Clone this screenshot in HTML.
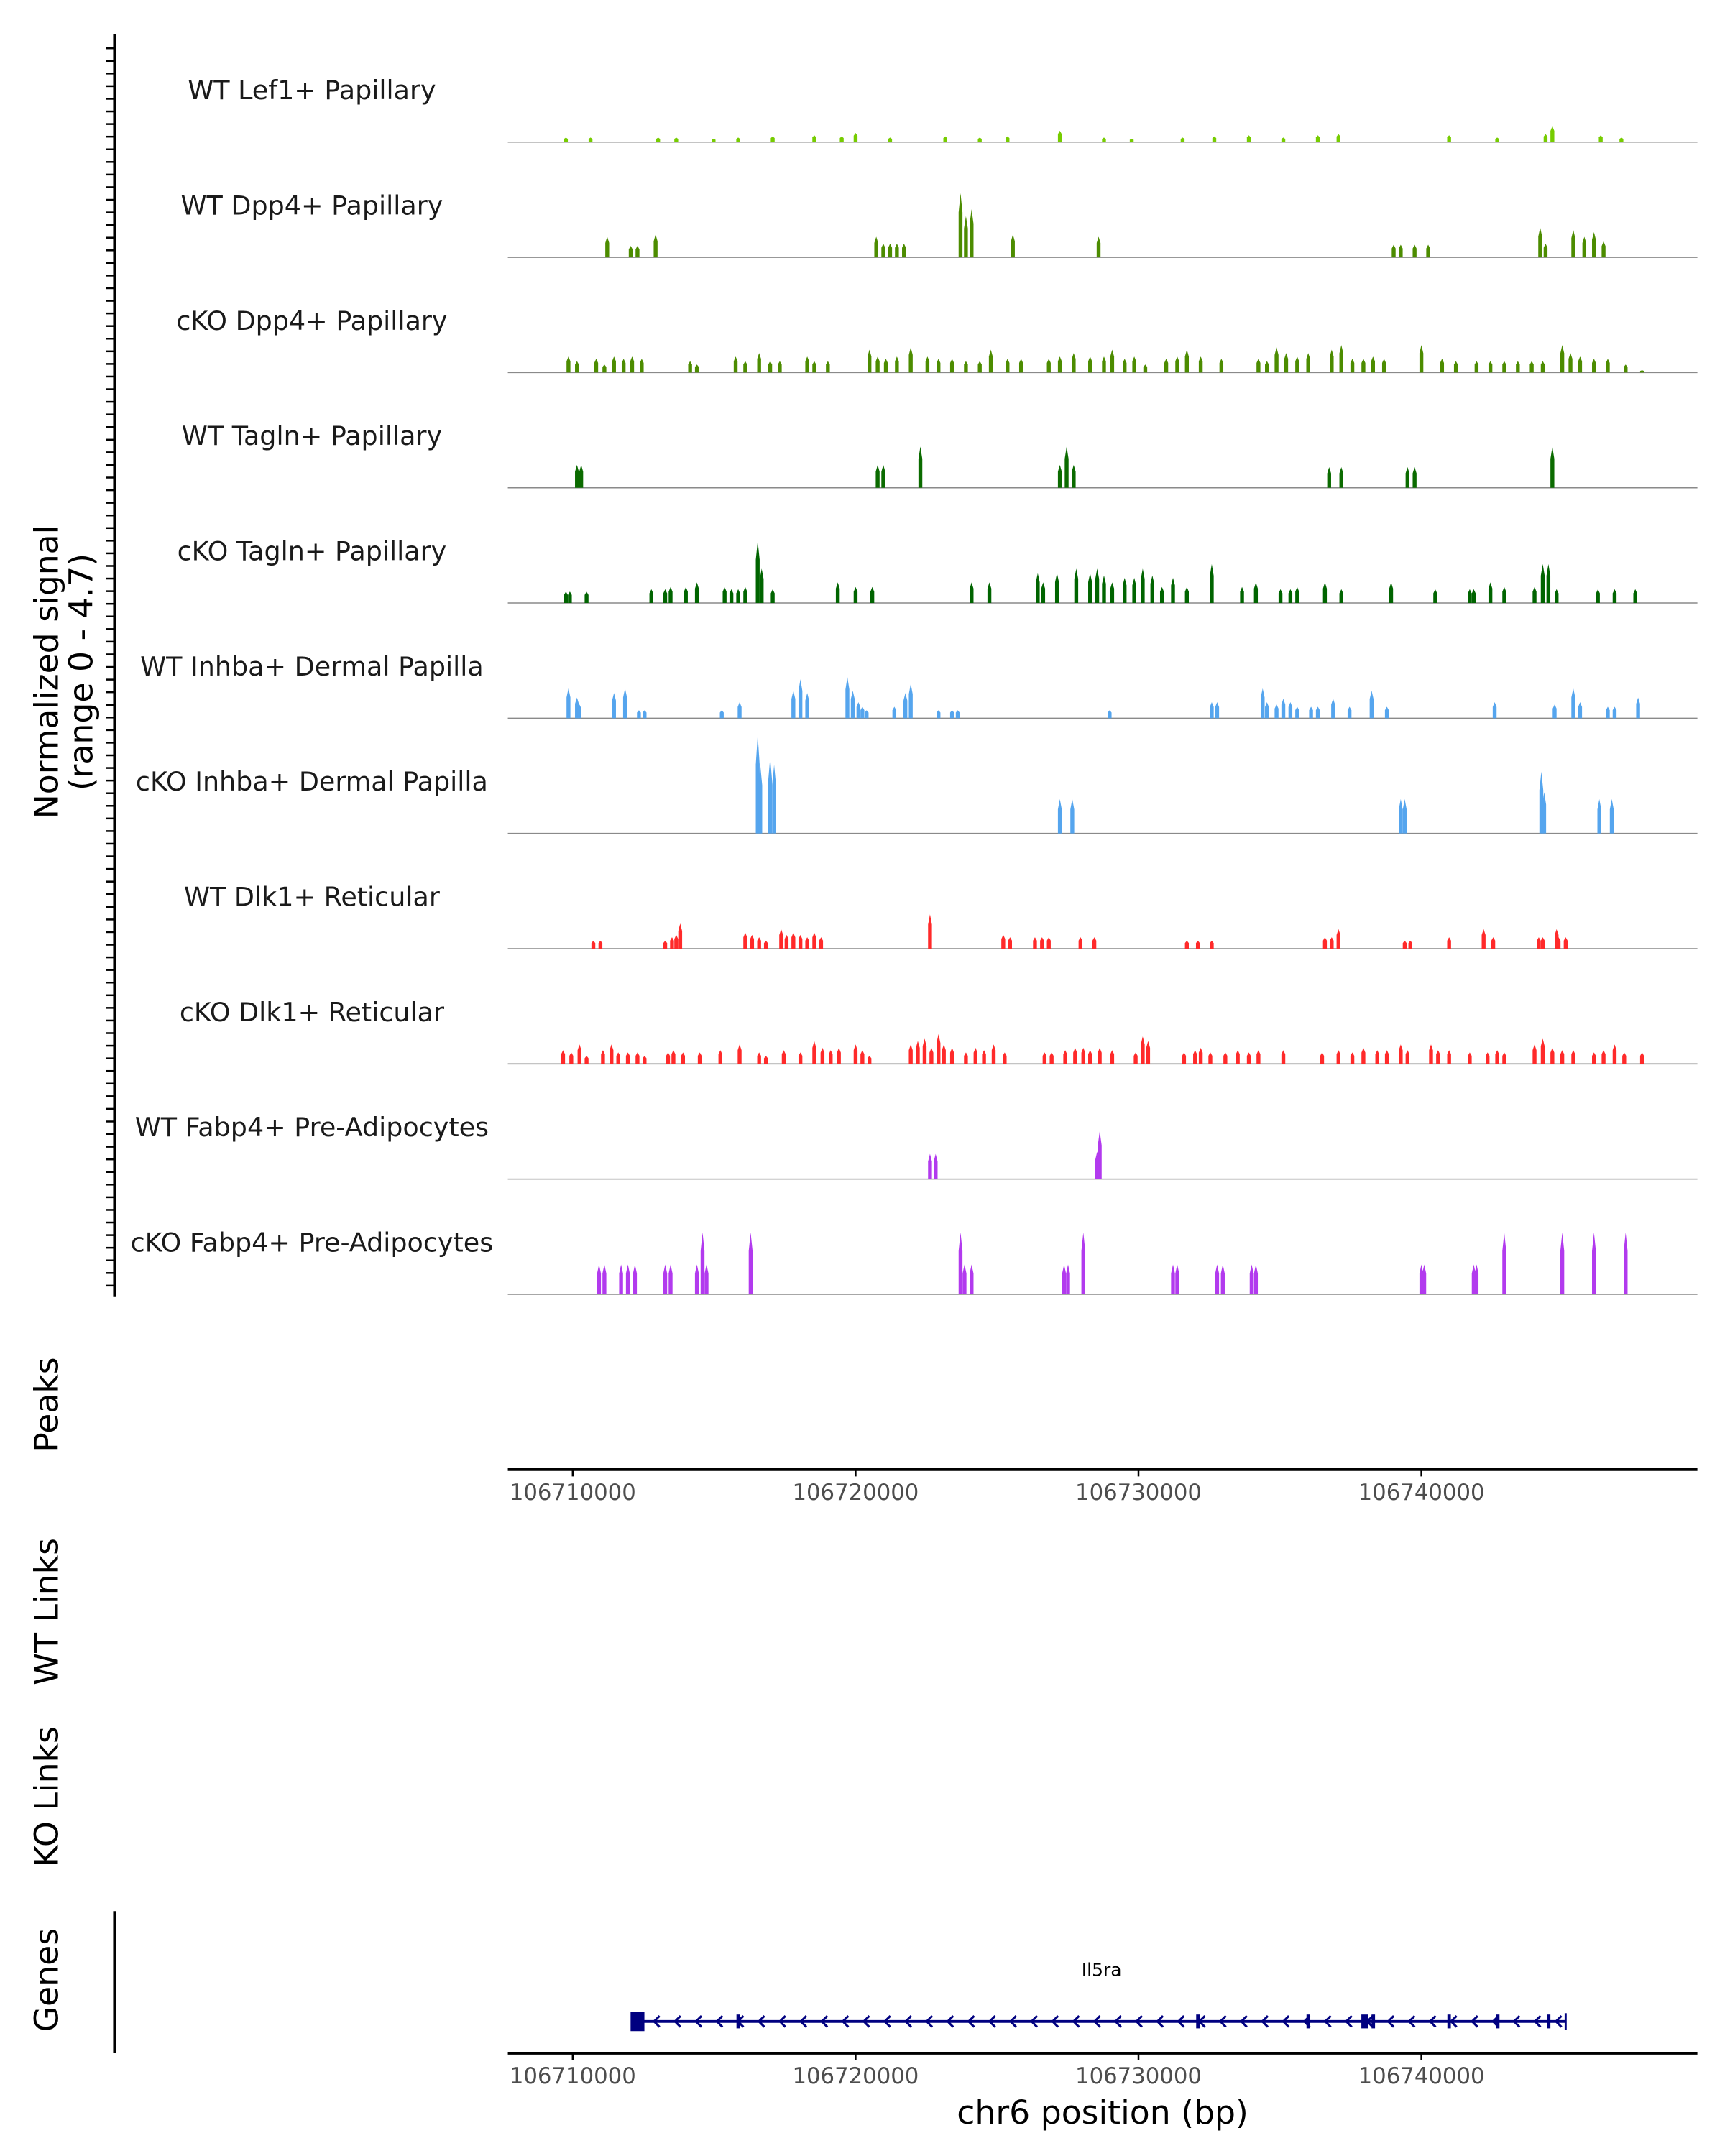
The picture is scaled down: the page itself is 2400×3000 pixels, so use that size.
<!DOCTYPE html>
<html><head><meta charset="utf-8"><style>
html,body{margin:0;padding:0;background:#fff;}
svg{display:block;}
text{font-family:"DejaVu Sans","Liberation Sans",sans-serif;}
</style></head><body>
<svg id="chart" xmlns="http://www.w3.org/2000/svg" width="2400" height="3000" viewBox="0 0 1250 1562.5">
<rect x="0" y="0" width="1250" height="1562.5" fill="#fff"/>
<g id="yaxis"></g>
<g id="tracks"></g>
<text transform="translate(42,487) rotate(-90)" text-anchor="middle" font-size="23.8" fill="#000">Normalized signal</text>
<text transform="translate(67,487) rotate(-90)" text-anchor="middle" font-size="23.8" fill="#000">(range 0 - 4.7)</text>
<text transform="translate(42,1018) rotate(-90)" text-anchor="middle" font-size="23.8">Peaks</text>
<text transform="translate(42,1168) rotate(-90)" text-anchor="middle" font-size="23.8">WT Links</text>
<text transform="translate(42,1302) rotate(-90)" text-anchor="middle" font-size="23.8">KO Links</text>
<text transform="translate(42,1435) rotate(-90)" text-anchor="middle" font-size="23.8">Genes</text>
<line x1="83" y1="1385" x2="83" y2="1488" stroke="#000" stroke-width="2"/>
<g id="xaxis1"></g>
<g id="gene"></g>
<g id="xaxis2"></g>
<text x="799" y="1539" text-anchor="middle" font-size="23.8">chr6 position (bp)</text>
</svg>
<script>
// positions in kb offset from 106700000; heights in normalized signal units
const xTicks=[106710000,106720000,106730000,106740000];
const trackNames=["WT Lef1+ Papillary","WT Dpp4+ Papillary","cKO Dpp4+ Papillary","WT Tagln+ Papillary","cKO Tagln+ Papillary","WT Inhba+ Dermal Papilla","cKO Inhba+ Dermal Papilla","WT Dlk1+ Reticular","cKO Dlk1+ Reticular","WT Fabp4+ Pre-Adipocytes","cKO Fabp4+ Pre-Adipocytes"];
const trackColors=["#76CC00","#4C8C00","#4C8C00","#0B6B00","#006400","#55A5EE","#55A5EE","#FF2A2A","#FF2A2A","#B23AEE","#B23AEE"];
const lef1WtPos=[9.76,10.63,13.02,13.66,14.98,15.85,17.07,18.54,19.51,20.0,21.22,23.17,24.39,25.37,27.22,28.78,29.76,31.56,32.68,33.9,35.12,36.34,37.07,40.98,42.68,44.39,44.63,46.34,47.07];
const lef1WtHt=[0.2,0.2,0.2,0.2,0.15,0.2,0.25,0.3,0.25,0.4,0.2,0.25,0.2,0.25,0.5,0.2,0.15,0.2,0.25,0.3,0.2,0.3,0.35,0.3,0.2,0.35,0.7,0.3,0.2];
const dpp4WtPos=[11.22,12.05,12.29,12.93,20.73,20.98,21.22,21.46,21.71,23.71,23.90,24.10,25.56,28.59,39.02,39.27,39.76,40.24,44.2,44.39,45.37,45.76,46.1,46.44];
const dpp4WtHt=[0.9,0.5,0.5,1.0,0.9,0.6,0.6,0.6,0.6,2.8,1.8,2.1,1.0,0.9,0.55,0.55,0.55,0.55,1.3,0.6,1.2,0.9,1.1,0.7];
const dpp4KoPos=[9.85,10.15,10.83,11.12,11.46,11.80,12.10,12.44,14.15,14.39,15.76,16.10,16.59,16.98,17.32,18.29,18.54,19.02,20.49,20.78,21.07,21.46,21.95,22.54,22.93,23.41,23.90,24.39,24.78,25.37,25.85,26.83,27.22,27.71,28.29,28.78,29.07,29.51,29.85,30.24,30.98,31.37,31.71,32.20,32.93,34.24,34.54,34.88,35.22,35.61,36.00,36.83,37.17,37.56,37.95,38.29,38.68,40.00,40.73,41.22,41.95,42.44,42.93,43.41,43.90,44.29,44.98,45.27,45.61,46.10,46.59,47.22,47.80];
const dpp4KoHt=[0.7,0.5,0.6,0.35,0.7,0.6,0.7,0.6,0.5,0.35,0.7,0.5,0.85,0.5,0.5,0.7,0.5,0.5,1.0,0.7,0.6,0.7,1.1,0.7,0.6,0.6,0.5,0.5,1.0,0.6,0.6,0.6,0.7,0.85,0.7,0.7,1.0,0.6,0.7,0.35,0.6,0.7,1.0,0.7,0.6,0.6,0.5,1.1,0.85,0.7,0.85,1.0,1.2,0.6,0.6,0.7,0.6,1.2,0.6,0.5,0.5,0.5,0.5,0.5,0.5,0.5,1.2,0.85,0.7,0.6,0.6,0.35,0.1];
const taglnWtPos=[10.15,10.30,20.78,20.98,22.29,27.22,27.46,27.71,36.74,37.17,39.51,39.76,44.63];
const taglnWtHt=[1.0,1.0,1.0,1.0,1.8,1.0,1.8,1.0,0.9,0.9,0.9,0.9,1.8];
const taglnKoPos=[9.76,9.90,10.49,12.78,13.27,13.46,14.00,14.39,15.37,15.61,15.85,16.10,16.54,16.68,17.07,19.37,20.0,20.59,24.10,24.73,26.44,26.63,27.12,27.80,28.29,28.54,28.78,29.07,29.51,29.85,30.15,30.49,30.83,31.22,31.71,32.59,33.66,34.15,35.02,35.37,35.61,36.59,37.17,38.93,40.49,41.71,41.85,42.44,42.93,44.0,44.29,44.49,44.78,46.24,46.83,47.56];
const taglnKoHt=[0.5,0.5,0.5,0.6,0.6,0.7,0.7,0.9,0.7,0.6,0.6,0.7,2.7,1.5,0.6,0.9,0.7,0.7,0.9,0.9,1.3,0.9,1.3,1.5,1.3,1.5,1.2,0.9,1.1,1.1,1.5,1.2,0.7,1.1,0.7,1.7,0.7,0.9,0.6,0.6,0.7,0.9,0.6,0.9,0.6,0.6,0.6,0.9,0.7,0.7,1.7,1.7,0.6,0.6,0.6,0.6];
const inhbaWtPos=[9.85,10.15,10.24,11.46,11.85,12.34,12.54,15.27,15.90,17.80,18.05,18.29,19.71,19.90,20.10,20.24,20.39,21.37,21.76,21.95,22.93,23.41,23.61,28.98,32.59,32.78,34.39,34.54,34.88,35.12,35.37,35.61,36.10,36.34,36.88,37.46,38.24,38.78,42.59,44.71,45.37,45.61,46.59,46.83,47.66];
const inhbaWtHt=[1.3,0.9,0.6,1.1,1.3,0.35,0.35,0.35,0.7,1.2,1.7,1.1,1.8,1.2,0.7,0.5,0.35,0.5,1.1,1.5,0.35,0.35,0.35,0.35,0.7,0.7,1.3,0.7,0.6,0.85,0.7,0.5,0.5,0.5,0.85,0.5,1.2,0.5,0.7,0.6,1.3,0.7,0.5,0.5,0.9];
const inhbaKoPos=[16.54,16.63,16.98,17.12,27.22,27.66,39.27,39.41,44.24,44.34,46.29,46.73];
const inhbaKoHt=[4.3,3.0,3.3,3.0,1.5,1.5,1.5,1.5,2.7,1.8,1.5,1.5];
const dlk1WtPos=[10.73,10.98,13.27,13.51,13.66,13.80,16.10,16.34,16.59,16.83,17.37,17.56,17.80,18.05,18.29,18.54,18.78,22.63,25.22,25.46,26.34,26.59,26.83,27.95,28.44,31.71,32.10,32.59,36.59,36.83,37.07,39.41,39.61,40.98,42.20,42.54,44.15,44.29,44.78,44.85,45.10];
const dlk1WtHt=[0.35,0.35,0.35,0.5,0.6,1.1,0.7,0.6,0.5,0.35,0.85,0.6,0.7,0.6,0.5,0.7,0.5,1.5,0.6,0.5,0.5,0.5,0.5,0.5,0.5,0.35,0.35,0.35,0.5,0.5,0.85,0.35,0.35,0.5,0.85,0.5,0.5,0.5,0.85,0.5,0.5];
const dlk1KoPos=[9.66,9.95,10.24,10.49,11.07,11.37,11.61,11.95,12.29,12.54,13.37,13.56,13.90,14.49,15.22,15.90,16.59,16.83,17.46,18.05,18.54,18.83,19.12,19.41,20.0,20.24,20.49,21.95,22.20,22.44,22.68,22.93,23.12,23.41,23.90,24.24,24.54,24.88,25.27,26.68,26.93,27.41,27.76,28.05,28.29,28.63,29.07,29.90,30.15,30.34,31.61,32.00,32.20,32.54,33.07,33.51,33.90,34.24,35.12,36.49,37.07,37.56,37.95,38.44,38.78,39.27,39.51,40.34,40.59,40.98,41.71,42.34,42.68,42.93,44.0,44.29,44.63,44.98,45.37,46.10,46.44,46.83,47.17,47.80];
const dlk1KoHt=[0.6,0.5,0.85,0.35,0.6,0.85,0.5,0.5,0.5,0.35,0.5,0.6,0.5,0.5,0.6,0.85,0.5,0.35,0.6,0.5,1.0,0.7,0.6,0.7,0.85,0.6,0.35,0.85,1.0,1.1,0.7,1.3,0.85,0.7,0.5,0.7,0.6,0.85,0.5,0.5,0.5,0.6,0.7,0.7,0.6,0.7,0.6,0.5,1.2,1.0,0.5,0.6,0.7,0.5,0.5,0.6,0.5,0.6,0.6,0.5,0.6,0.5,0.7,0.6,0.6,0.85,0.6,0.85,0.6,0.6,0.5,0.5,0.6,0.5,0.85,1.1,0.7,0.6,0.6,0.5,0.6,0.85,0.5,0.5];
const fabp4WtPos=[22.63,22.83,28.54,28.63];
const fabp4WtHt=[1.1,1.1,1.2,2.1];
const fabp4KoPos=[10.93,11.12,11.71,11.95,12.20,13.27,13.46,14.39,14.59,14.73,16.29,23.71,23.85,24.10,27.37,27.51,28.05,31.22,31.37,32.78,32.98,34.0,34.15,40.0,40.10,41.85,41.95,42.93,44.98,46.10,47.22];
const fabp4KoHt=[1.3,1.3,1.3,1.3,1.3,1.3,1.3,1.3,2.7,1.3,2.7,2.7,1.3,1.3,1.3,1.3,2.7,1.3,1.3,1.3,1.3,1.3,1.3,1.3,1.3,1.3,1.3,2.7,2.7,2.7,2.7];
const geneStartKb=12.29, geneEndKb=45.10;
const exonKb=[12.29,15.85,32.10,36.00,38.00,38.30,40.98,42.70,44.50];

const trackPos=[lef1WtPos,dpp4WtPos,dpp4KoPos,taglnWtPos,taglnKoPos,inhbaWtPos,inhbaKoPos,dlk1WtPos,dlk1KoPos,fabp4WtPos,fabp4KoPos];
const trackHt=[lef1WtHt,dpp4WtHt,dpp4KoHt,taglnWtHt,taglnKoHt,inhbaWtHt,inhbaKoHt,dlk1WtHt,dlk1KoHt,fabp4WtHt,fabp4KoHt];

const NS='http://www.w3.org/2000/svg';
const X_L=368,X_R=1230,BP0=106707707,BP1=106749756;
function xScale(bp){return X_L+(bp-BP0)/(BP1-BP0)*(X_R-X_L);}
function kbX(kb){return xScale(106700000+kb*1000);}
function yScale(v){return v*16.6;}
function mk(tag,attrs,parent){const e=document.createElementNS(NS,tag);for(const k in attrs)e.setAttribute(k,attrs[k]);parent.appendChild(e);return e;}

const ya=document.getElementById('yaxis');
const yl=mk('line',{x1:83,y1:25,x2:83,y2:940,stroke:'#000','stroke-width':2},ya);


for(let y=35;y<=940;y+=9.15){
  const t=mk('line',{x1:77,y1:y,x2:83,y2:y,stroke:'#000','stroke-width':1.3},ya);
  
  
}

const tg=document.getElementById('tracks');
for(let i=0;i<trackNames.length;i++){
  const base=103+i*83.5;
  const g=mk('g',{},tg);
  
  
  const lab=mk('text',{x:226,y:base-31,'text-anchor':'middle','font-size':19,fill:'#1a1a1a'},g);
  lab.textContent=trackNames[i];
  
  
  const bl=mk('line',{x1:X_L,y1:base,x2:X_R,y2:base,stroke:'#8a8a8a','stroke-width':0.8},g);
  
  
  const P=trackPos[i],H=trackHt[i];
  for(let j=0;j<P.length;j++){
    const x=kbX(P[j]),h=yScale(H[j]),w=1.4;
    const p=mk('path',{d:`M${x-w},${base}L${x-w},${base-h*0.7}L${x},${base-h}L${x+w},${base-h*0.7}L${x+w},${base}Z`,fill:trackColors[i]},g);
    
    
  }
}

function xAxis(id,y){
  const g=document.getElementById(id);
  const l=mk('line',{x1:X_L,y1:y,x2:X_R,y2:y,stroke:'#000','stroke-width':2},g);
  
  
  xTicks.forEach(v=>{
    const x=xScale(v);
    const t=mk('line',{x1:x,y1:y,x2:x,y2:y+5,stroke:'#000','stroke-width':1.3},g);
    
    
    const tx=mk('text',{x:x,y:y+22,'text-anchor':'middle','font-size':16,fill:'#4d4d4d'},g);
    tx.textContent=v;
    
    
  });
}
xAxis('xaxis1',1065);
xAxis('xaxis2',1488);

const gg=document.getElementById('gene');
const gy=1465;
const gl=mk('line',{x1:kbX(geneStartKb),y1:gy,x2:kbX(geneEndKb),y2:gy,stroke:'#000080','stroke-width':2},gg);


const gname=mk('text',{x:(kbX(geneStartKb)+kbX(geneEndKb))/2,y:1432,'text-anchor':'middle','font-size':13,fill:'#000'},gg);
gname.textContent='Il5ra';


for(let x=kbX(geneStartKb)+12;x<kbX(geneEndKb)-4;x+=15.2){
  const a=mk('path',{d:`M${x+4},${gy-4}L${x},${gy}L${x+4},${gy+4}`,fill:'none',stroke:'#000080','stroke-width':1.6},gg);
  
  
}
exonKb.forEach((k,i)=>{
  const x=kbX(k);
  const w=i===0?10:(i===4?5:2.5),h=i===0?14:10;
  const r=mk('rect',{x:x-w/2,y:gy-h/2,width:w,height:h,fill:'#000080'},gg);
  
  
});
const ge=mk('line',{x1:kbX(geneEndKb),y1:gy-6,x2:kbX(geneEndKb),y2:gy+6,stroke:'#000080','stroke-width':1.5},gg);


</script>
</body></html>
